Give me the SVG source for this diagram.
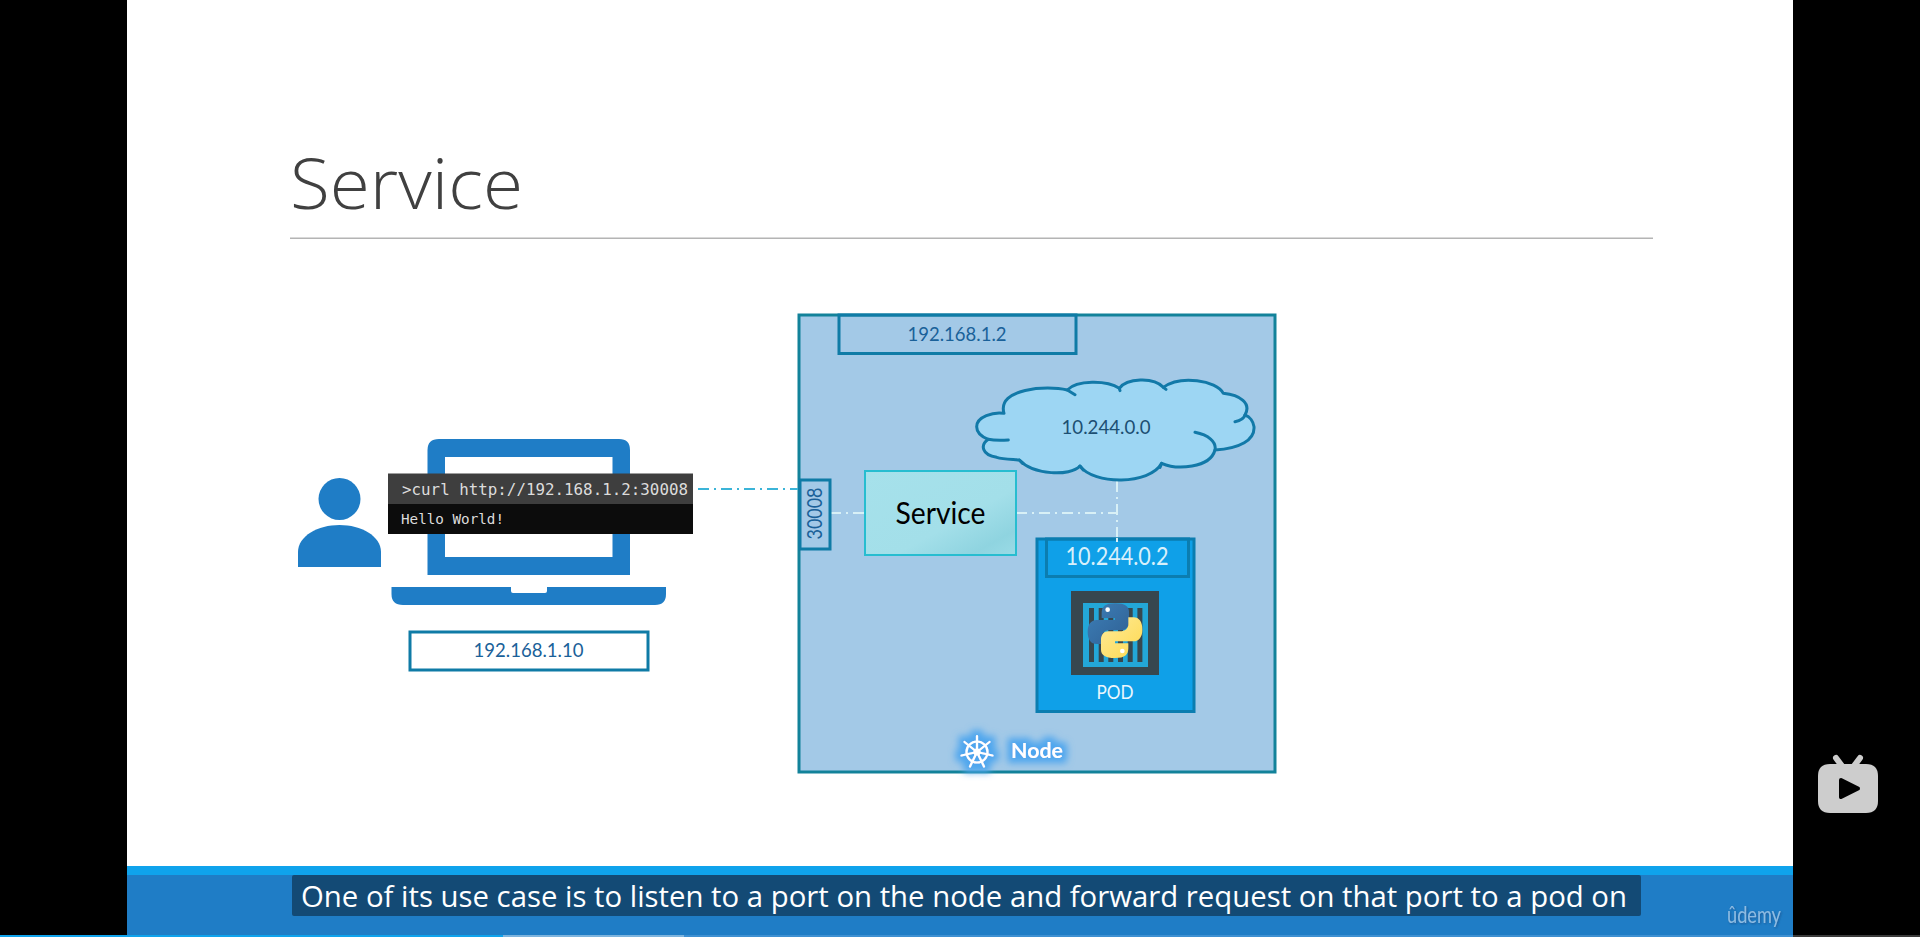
<svg xmlns="http://www.w3.org/2000/svg" width="1920" height="937" viewBox="0 0 1920 937">
<style>
.lbl{font-family:"Lato","Liberation Sans",sans-serif;text-anchor:middle}
.ip{font-size:19.500px;fill:#1a6199}
.box{fill:none;stroke:#0f7ba6;stroke-width:3}
.mono{font-family:"DejaVu Sans Mono","Liberation Mono",monospace;fill:#dcdcdc}
.link{fill:none;stroke-width:2;stroke-dasharray:11 5 2 5}
.blue{fill:#1f7dc6}
.bar{fill:#37474f}
.cloud-arc{fill:none;stroke:#1279a8;stroke-width:9;stroke-linecap:round}
</style>
<defs>
<linearGradient id="svc" x1="0" y1="0" x2="1" y2="1"><stop offset="0" stop-color="#a6e1eb"/><stop offset=".6" stop-color="#a3dfe9"/><stop offset=".85" stop-color="#8fd4e0"/><stop offset="1" stop-color="#9adbe6"/></linearGradient>
<linearGradient id="pyb" x1="0" y1="0" x2="1" y2="1"><stop offset="0" stop-color="#3d7fb8"/><stop offset="1" stop-color="#2f6093"/></linearGradient>
<linearGradient id="pyy" x1="0" y1="0" x2="1" y2="1"><stop offset="0" stop-color="#ffd94f"/><stop offset="1" stop-color="#fdeb9a"/></linearGradient>
<filter id="glow" x="-30%" y="-60%" width="160%" height="220%">
<feMorphology in="SourceAlpha" operator="dilate" radius="5" result="d"/>
<feGaussianBlur in="d" stdDeviation="3.500" result="b"/>
<feFlood flood-color="#4ea6ee"/>
<feComposite in2="b" operator="in" result="g"/>
<feMerge><feMergeNode in="g"/><feMergeNode in="SourceGraphic"/></feMerge>
</filter>
<filter id="soft" x="-10%" y="-100%" width="120%" height="300%"><feGaussianBlur stdDeviation="2.500"/></filter>
<filter id="softv" x="-200%" y="-10%" width="500%" height="120%"><feGaussianBlur stdDeviation="2.500"/></filter>
<filter id="ushadow" x="-10%" y="-20%" width="120%" height="150%"><feDropShadow dx="1" dy="1" stdDeviation=".8" flood-color="#14508a" flood-opacity=".8"/></filter>
</defs>

<rect width="1920" height="937" fill="#000"/>
<rect x="127" y="0" width="1666" height="937" fill="#fff"/>

<g id="title">
<text x="290" y="209" font-family="'Open Sans','Noto Sans',sans-serif" font-weight="300" font-size="70" fill="#404040" textLength="233" lengthAdjust="spacingAndGlyphs">Service</text>
<rect x="290" y="237.500" width="1363" height="1.500" fill="#b4b4b4"/>
</g>

<g id="node-host">
<rect x="799" y="315" width="476" height="457" fill="#a3c9e7" stroke="#12829a" stroke-width="3"/>
</g>

<g id="node-user">
<ellipse class="blue" cx="339.500" cy="499" rx="21" ry="21"/>
<path class="blue" d="M298 567V552C298 536 318 525 339.500 525C361 525 381 536 381 552V567Z"/>
</g>

<g id="node-laptop">
<path class="blue" fill-rule="evenodd" d="M439 439H619Q630 439 630 450V575H427.500V450Q427.500 439 439 439ZM445 457V557H612.500V457Z"/>
<path class="blue" d="M391.500 587H511V591Q511 593 513 593H545Q547 593 547 591V587H666V594Q666 605 655 605H403Q391.500 605 391.500 594Z"/>
</g>

<g id="connectors">
<path d="M830 515H865M1016 515H1118" stroke="#8aa0b0" stroke-width="5" opacity=".45" fill="none" filter="url(#soft)"/>
<path d="M1119 482V539" stroke="#8aa0b0" stroke-width="5" opacity=".45" fill="none" filter="url(#softv)"/>
<path class="link" stroke="#3bb4d8" d="M698 489H798"/>
<path class="link" stroke="#d8f0f6" d="M830 513H865"/>
<path class="link" stroke="#d8f0f6" d="M1016 513H1118"/>
<path class="link" stroke="#d8f0f6" d="M1117 481V540"/>
</g>

<g id="node-terminal">
<rect x="388" y="473.500" width="305" height="30.500" fill="#3e3e3e"/>
<rect x="388" y="504" width="305" height="30" fill="#0c0c0c"/>
<text class="mono" x="402" y="495" font-size="15.500" textLength="286" lengthAdjust="spacingAndGlyphs">&gt;curl http://192.168.1.2:30008</text>
<text class="mono" x="401" y="524" font-size="14.300" textLength="103" lengthAdjust="spacingAndGlyphs">Hello World!</text>
</g>

<g id="node-client-ip">
<rect class="box" x="410" y="632" width="238" height="38"/>
<text class="lbl ip" x="528.500" y="657" textLength="110" lengthAdjust="spacingAndGlyphs">192.168.1.10</text>
</g>

<g id="node-host-ip">
<rect class="box" x="839" y="315" width="237" height="38.500"/>
<text class="lbl ip" x="957" y="341" textLength="99" lengthAdjust="spacingAndGlyphs">192.168.1.2</text>
</g>

<g id="node-port">
<rect class="box" x="800" y="480" width="30" height="69"/>
<text class="lbl ip" style="font-size:21px" transform="translate(822 513.500) rotate(-90)" x="0" y="0" textLength="52" lengthAdjust="spacingAndGlyphs">30008</text>
</g>

<g id="node-service">
<rect x="865" y="471" width="151" height="84" fill="url(#svc)" stroke="#27bdd0" stroke-width="2"/>
<text class="lbl" x="940.500" y="524" font-size="30" fill="#000" textLength="90" lengthAdjust="spacingAndGlyphs">Service</text>
</g>

<g id="node-cloud">
<g transform="translate(780 300) scale(.33333)">
<path fill="#9dd6f3" stroke="#1279a8" stroke-width="9" stroke-linejoin="round" d="M672 340C640 335 590 350 590 380C590 402 610 412 625 418C600 435 605 465 650 472C670 478 700 478 718 480C760 525 870 530 900 498C940 555 1110 555 1145 490C1190 510 1290 505 1305 450C1380 445 1425 420 1422 380C1420 365 1410 350 1395 345C1415 310 1380 285 1330 280C1310 240 1200 225 1150 262C1120 230 1040 235 1018 265C980 240 890 240 862 270C800 255 650 265 672 340Z"/>
<path class="cloud-arc" d="M625 418C640 421 665 421 685 420M862 270L885 284M1018 265L1020 272M1150 262L1158 268M1395 345C1392 355 1380 362 1365 365M1305 450C1310 425 1285 405 1245 397M900 498L910 510M1145 490L1140 502M718 480L728 490"/>
</g>
<text class="lbl" x="1106" y="434" font-size="19.500" fill="#1c4f72" textLength="89" lengthAdjust="spacingAndGlyphs">10.244.0.0</text>
</g>

<g id="node-pod">
<rect x="1037" y="539" width="157" height="172.500" fill="#0fa0e8" stroke="#0b7db0" stroke-width="3"/>
<rect x="1046.500" y="539" width="142" height="37.500" fill="none" stroke="#0b7db0" stroke-width="3"/>
<path d="M1117 538V542" stroke="#d8f0f6" stroke-width="2"/>
<text class="lbl" x="1117" y="565" font-size="25" fill="#d8f0fb" textLength="103" lengthAdjust="spacingAndGlyphs">10.244.0.2</text>
<rect x="1071" y="591" width="88" height="84" class="bar"/>
<rect x="1083" y="603" width="65" height="64" fill="#23a7d8"/>
<g class="bar">
<rect x="1089" y="608" width="5" height="54"/><rect x="1098.700" y="608" width="5" height="54"/><rect x="1108.300" y="608" width="5" height="54"/><rect x="1118" y="608" width="5" height="54"/><rect x="1127.700" y="608" width="5" height="54"/><rect x="1137.400" y="608" width="5" height="54"/>
</g>
<g transform="translate(1050 580) scale(.33333)">
<path fill="url(#pyb)" d="M195 70C165 70 155 80 155 100V114H195V120H140C122 120 113 135 113 155C113 178 122 192 140 192H155V172C155 158 165 150 180 150H215C228 150 237 140 237 125V95C237 80 225 70 195 70Z"/>
<path fill="url(#pyy)" transform="rotate(180 195 152)" d="M195 70C165 70 155 80 155 100V114H195V120H140C122 120 113 135 113 155C113 178 122 192 140 192H155V172C155 158 165 150 180 150H215C228 150 237 140 237 125V95C237 80 225 70 195 70Z"/>
<circle cx="173" cy="89" r="7" fill="#fff"/><circle cx="217" cy="213" r="7" fill="#fff"/>
</g>
<text class="lbl" x="1115" y="699" font-size="18.500" fill="#eaf7fe" textLength="37" lengthAdjust="spacingAndGlyphs">POD</text>
</g>

<g id="node-label" filter="url(#glow)">
<g fill="none" stroke="#fff" stroke-width="2.200" stroke-linecap="round">
<circle cx="977" cy="752" r="10.500"/>
<circle cx="977" cy="752" r="2.500"/>
<path d="M977 752V736M977 752L989.500 742M977 752L992.500 755.500M977 752L984 766.500M977 752L970 766.500M977 752L961.500 755.500M977 752L964.500 742"/>
</g>
<text x="1011" y="758" font-family="Lato,'Liberation Sans',sans-serif" font-weight="700" font-size="21" fill="#fff" textLength="52" lengthAdjust="spacingAndGlyphs">Node</text>
</g>

<g id="caption">
<rect x="127" y="866" width="1666" height="9" fill="#0fa3ec"/>
<rect x="127" y="875" width="1666" height="60" fill="#1f7dc6"/>
<rect x="292" y="875" width="1349" height="41" rx="2" fill="#134a75"/>
<text x="301" y="907" font-family="'Open Sans','Noto Sans',sans-serif" font-size="30" fill="#fff" textLength="1326" lengthAdjust="spacingAndGlyphs">One of its use case is to listen to a port on the node and forward request on that port to a pod on</text>
<text x="1727" y="923" font-family="Lato,'Liberation Sans',sans-serif" font-size="23" fill="#8dbbe2" filter="url(#ushadow)" textLength="54" lengthAdjust="spacingAndGlyphs">ûdemy</text>
<rect x="0" y="935" width="503" height="2" fill="#0fa3ec"/>
<rect x="503" y="935" width="181" height="2" fill="#7db4de"/>
<rect x="684" y="935" width="1109" height="2" fill="#3e90d2"/>
<rect x="1793" y="935" width="127" height="2" fill="#3a3a3a"/>
</g>

<g id="tv-badge">
<path d="M1836 758L1842 766M1860 758L1854 766" stroke="#cdcdcd" stroke-width="6" stroke-linecap="round" fill="none"/>
<path fill="#cdcdcd" d="M1830 764H1866Q1878 764 1878 776V801Q1878 813 1866 813H1830Q1818 813 1818 801V776Q1818 764 1830 764Z"/>
<path fill="#000" stroke="#000" stroke-width="4" stroke-linejoin="round" d="M1841 780L1858 788.500L1841 797Z"/>
</g>
</svg>
